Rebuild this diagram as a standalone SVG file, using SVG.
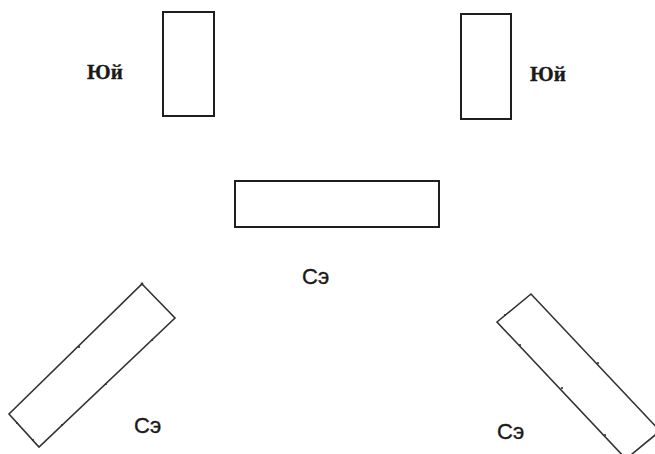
<svg xmlns="http://www.w3.org/2000/svg" width="655" height="454" viewBox="0 0 655 454">
  <style>
    .box { fill: #ffffff; stroke: #1e1e1e; stroke-width: 2; }
    .tilt { fill: #ffffff; stroke: #333333; stroke-width: 1.6; stroke-linejoin: miter; }
    .tick { fill: #333333; }
    .lbl-serif { font-family: "Liberation Serif", "Times New Roman", serif; font-weight: bold; font-size: 21px; fill: #1a1a1a; stroke: #1a1a1a; stroke-width: 0.3; }
    .lbl-sans { font-family: "Liberation Sans", Arial, sans-serif; font-size: 22px; fill: #1a1a1a; stroke: #1a1a1a; stroke-width: 0.35; }
  </style>
  <rect width="655" height="454" fill="#ffffff"/>

  <g id="yuy-left">
    <rect class="box" x="163" y="12" width="51" height="104"/>
    <text class="lbl-serif" x="87" y="79">Юй</text>
  </g>

  <g id="yuy-right">
    <rect class="box" x="461" y="14" width="50" height="105"/>
    <text class="lbl-serif" x="530" y="81">Юй</text>
  </g>

  <g id="se-center">
    <rect class="box" x="235" y="181" width="204" height="46"/>
    <text class="lbl-sans" x="302" y="284">Сэ</text>
  </g>

  <g id="se-left">
    <polygon class="tilt" points="142,284 175,318 39,447 9,414"/>
    <circle class="tick" cx="142" cy="284" r="1.4"/>
    <circle class="tick" cx="79" cy="347" r="1.1"/>
    <circle class="tick" cx="152" cy="340" r="1.1"/>
    <circle class="tick" cx="106" cy="384" r="1.1"/>
    <circle class="tick" cx="62" cy="425" r="1.1"/>
    <circle class="tick" cx="17" cy="423" r="1.1"/>
    <circle class="tick" cx="33" cy="440" r="1.1"/>
    <text class="lbl-sans" x="134" y="433">Сэ</text>
  </g>

  <g id="se-right">
    <polygon class="tilt" points="531,294 497,322 626,459 660,431"/>
    <circle class="tick" cx="505" cy="315" r="1.1"/>
    <circle class="tick" cx="520" cy="345" r="1.1"/>
    <circle class="tick" cx="562" cy="388" r="1.1"/>
    <circle class="tick" cx="598" cy="363" r="1.1"/>
    <circle class="tick" cx="605" cy="435" r="1.1"/>
    <text class="lbl-sans" x="497" y="439">Сэ</text>
  </g>

  <g id="connectors"></g>
</svg>
